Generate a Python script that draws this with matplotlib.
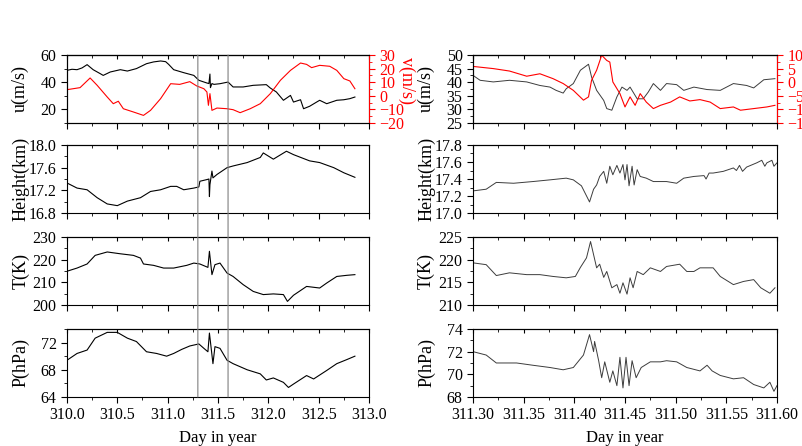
#########################################################
# Gravity wave event: overview (left) and zoomed window (right)
#########################################################

import numpy as np
import matplotlib.pyplot as plt
from matplotlib.ticker import MultipleLocator
from matplotlib.patches import ConnectionPatch

plt.rcParams['font.family'] = ['Liberation Serif', 'DejaVu Serif']
plt.rcParams['font.size'] = 11.5

# ---------------- data ----------------
# left column: days 310 - 313, (day, value)
u_left = [(310.00, 48.7), (310.05, 49.5), (310.10, 49.2), (310.15, 50.5), (310.20, 52.9),
          (310.26, 49.2), (310.33, 46.3), (310.36, 45.0), (310.43, 47.5), (310.53, 49.2),
          (310.60, 48.2), (310.69, 50.0), (310.79, 53.6), (310.86, 54.9), (310.93, 55.6),
          (310.98, 55.1), (311.01, 53.1), (311.06, 49.2), (311.16, 47.0), (311.26, 45.0),
          (311.31, 41.4), (311.39, 39.4), (311.41, 39.0), (311.42, 46.0), (311.425, 36.0),
          (311.44, 39.0), (311.46, 38.4), (311.52, 38.9), (311.60, 40.1), (311.65, 36.5),
          (311.75, 36.5), (311.85, 37.7), (311.98, 38.2), (312.02, 35.7), (312.08, 32.8),
          (312.15, 26.7), (312.22, 30.3), (312.25, 25.4), (312.32, 27.1), (312.35, 20.5),
          (312.41, 22.3), (312.48, 25.4), (312.51, 26.7), (312.58, 24.2), (312.68, 26.7),
          (312.75, 27.1), (312.81, 27.9), (312.86, 29.1)]

v_left = [(310.00, 4.5), (310.13, 6.0), (310.23, 13.1), (310.30, 7.7), (310.40, -0.9),
          (310.46, -5.8), (310.51, -4.0), (310.56, -9.5), (310.66, -11.9), (310.76, -14.4),
          (310.83, -10.7), (310.93, -2.1), (311.03, 8.9), (311.12, 8.4), (311.22, 10.4),
          (311.29, 7.2), (311.36, 5.2), (311.39, 2.8), (311.405, -7.0), (311.42, 1.6),
          (311.44, -10.7), (311.49, -9.0), (311.59, -9.5), (311.65, -10.2), (311.72, -12.4),
          (311.82, -9.5), (311.92, -5.8), (312.02, 1.6), (312.12, 11.4), (312.22, 18.7),
          (312.32, 24.1), (312.38, 23.1), (312.43, 20.7), (312.51, 22.4), (312.61, 21.7),
          (312.68, 18.7), (312.75, 12.6), (312.81, 10.9), (312.86, 5.2)]

h_left = [(310.00, 17.33), (310.10, 17.24), (310.20, 17.21), (310.30, 17.07), (310.40, 16.96),
          (310.50, 16.93), (310.60, 17.01), (310.73, 17.07), (310.83, 17.18), (310.93, 17.21),
          (311.03, 17.27), (311.09, 17.27), (311.16, 17.21), (311.26, 17.24), (311.31, 17.26),
          (311.32, 17.36), (311.39, 17.39), (311.41, 17.40), (311.415, 17.09), (311.42, 17.30),
          (311.44, 17.54), (311.45, 17.42), (311.49, 17.48), (311.59, 17.60), (311.65, 17.63),
          (311.79, 17.69), (311.92, 17.78), (311.95, 17.86), (312.05, 17.75), (312.18, 17.89),
          (312.25, 17.83), (312.41, 17.72), (312.51, 17.69), (312.65, 17.60), (312.75, 17.51),
          (312.86, 17.43)]

t_left = [(310.00, 214.9), (310.10, 216.3), (310.20, 218.1), (310.28, 221.9), (310.40, 223.4),
          (310.53, 222.6), (310.66, 221.9), (310.73, 220.7), (310.76, 218.1), (310.86, 217.5),
          (310.96, 216.3), (311.06, 216.3), (311.19, 217.5), (311.26, 218.5), (311.32, 218.1),
          (311.40, 216.6), (311.415, 223.7), (311.44, 213.4), (311.47, 217.8), (311.52, 218.5),
          (311.59, 214.1), (311.65, 212.6), (311.75, 209.0), (311.85, 206.0), (311.95, 204.6),
          (312.05, 204.9), (312.15, 204.6), (312.19, 201.6), (312.25, 204.3), (312.38, 208.2),
          (312.51, 207.5), (312.58, 209.7), (312.68, 212.6), (312.78, 213.1), (312.86, 213.4)]

p_left = [(310.00, 69.4), (310.10, 70.4), (310.20, 70.9), (310.28, 72.65), (310.40, 73.5),
          (310.50, 73.5), (310.60, 72.65), (310.69, 72.15), (310.79, 70.65), (310.89, 70.4),
          (310.99, 70.0), (311.06, 70.4), (311.14, 71.0), (311.22, 71.5), (311.31, 71.8),
          (311.36, 71.15), (311.40, 70.65), (311.415, 73.4), (311.45, 68.9), (311.47, 71.4),
          (311.52, 71.15), (311.59, 69.4), (311.65, 68.9), (311.79, 68.0), (311.92, 67.4),
          (311.98, 66.5), (312.05, 66.8), (312.15, 66.15), (312.20, 65.4), (312.25, 65.9),
          (312.38, 67.15), (312.45, 66.65), (312.58, 67.9), (312.68, 68.9), (312.78, 69.5),
          (312.86, 70.0)]

# right column: zoomed window 311.30 - 311.60
u_right = [(311.300, 42.5), (311.307, 40.7), (311.320, 40.1), (311.336, 40.7), (311.353, 40.1),
           (311.366, 38.8), (311.376, 38.2), (311.382, 37.0), (311.389, 36.0), (311.392, 37.6),
           (311.399, 39.5), (311.406, 44.4), (311.414, 46.6), (311.417, 41.9), (311.422, 37.0),
           (311.429, 33.3), (311.432, 30.3), (311.437, 29.7), (311.442, 34.6), (311.447, 38.2),
           (311.452, 37.0), (311.455, 38.2), (311.462, 33.9), (311.468, 33.9), (311.473, 36.4),
           (311.478, 39.5), (311.485, 37.0), (311.491, 39.5), (311.501, 39.1), (311.508, 37.0),
           (311.518, 38.2), (311.531, 37.3), (311.544, 37.0), (311.557, 39.5), (311.570, 38.8),
           (311.577, 37.9), (311.587, 40.9), (311.598, 41.3)]

v_right = [(311.300, 5.8), (311.320, 5.0), (311.336, 4.1), (311.353, 2.2), (311.366, 3.1),
           (311.379, 1.3), (311.389, -0.5), (311.399, -3.0), (311.409, -6.6), (311.414, -5.4),
           (311.417, 0.7), (311.422, 4.4), (311.427, 9.9), (311.432, 8.0), (311.435, 7.4),
           (311.438, 0.1), (311.445, -4.2), (311.450, -9.1), (311.455, -5.4), (311.460, -8.5),
           (311.465, -4.2), (311.471, -7.3), (311.478, -9.7), (311.485, -8.5), (311.495, -7.3),
           (311.504, -5.4), (311.514, -6.9), (311.524, -6.4), (311.534, -7.3), (311.544, -9.7),
           (311.557, -9.1), (311.564, -10.3), (311.577, -9.7), (311.590, -9.1), (311.598, -8.5)]

h_right = [(311.300, 17.26), (311.313, 17.28), (311.323, 17.36), (311.340, 17.35), (311.359, 17.37),
           (311.376, 17.39), (311.392, 17.41), (311.399, 17.39), (311.407, 17.32), (311.415, 17.13),
           (311.419, 17.28), (311.422, 17.33), (311.425, 17.43), (311.429, 17.49), (311.432, 17.35),
           (311.435, 17.55), (311.438, 17.45), (311.442, 17.56), (311.445, 17.47), (311.448, 17.57),
           (311.450, 17.39), (311.452, 17.57), (311.454, 17.32), (311.457, 17.55), (311.459, 17.33),
           (311.462, 17.51), (311.465, 17.43), (311.471, 17.41), (311.478, 17.37), (311.491, 17.37),
           (311.501, 17.35), (311.508, 17.41), (311.518, 17.43), (311.528, 17.44), (311.530, 17.40),
           (311.533, 17.47), (311.537, 17.47), (311.547, 17.49), (311.557, 17.53), (311.560, 17.50),
           (311.563, 17.56), (311.566, 17.49), (311.570, 17.54), (311.580, 17.59), (311.585, 17.62),
           (311.588, 17.55), (311.590, 17.59), (311.595, 17.62), (311.597, 17.55), (311.600, 17.59)]

t_right = [(311.300, 219.3), (311.313, 218.9), (311.323, 216.5), (311.336, 217.1), (311.353, 216.7),
           (311.366, 216.7), (311.379, 216.3), (311.392, 216.0), (311.401, 216.3), (311.406, 218.3),
           (311.412, 220.4), (311.416, 224.0), (311.419, 221.1), (311.422, 218.2), (311.425, 219.0),
           (311.429, 216.1), (311.432, 217.4), (311.437, 213.8), (311.442, 214.5), (311.445, 212.6),
           (311.448, 214.9), (311.452, 212.4), (311.455, 216.0), (311.458, 213.8), (311.462, 217.4),
           (311.468, 216.7), (311.475, 218.2), (311.485, 217.4), (311.491, 218.5), (311.504, 219.0),
           (311.511, 217.4), (311.518, 217.4), (311.524, 218.2), (311.537, 218.2), (311.544, 216.3),
           (311.557, 214.5), (311.567, 215.2), (311.577, 215.6), (311.584, 213.8), (311.593, 212.6),
           (311.598, 213.8)]

p_right = [(311.300, 72.0), (311.313, 71.7), (311.323, 71.0), (311.343, 71.0), (311.359, 70.8),
           (311.376, 70.6), (311.389, 70.4), (311.399, 70.6), (311.409, 71.7), (311.415, 73.5),
           (311.419, 72.0), (311.420, 72.9), (311.424, 71.2), (311.427, 69.7), (311.430, 71.1),
           (311.435, 69.3), (311.438, 70.3), (311.442, 69.0), (311.445, 71.5), (311.448, 68.8),
           (311.451, 71.5), (311.454, 69.0), (311.457, 71.2), (311.461, 69.7), (311.466, 70.6),
           (311.475, 71.1), (311.485, 71.1), (311.491, 71.2), (311.501, 71.1), (311.511, 70.6),
           (311.524, 70.3), (311.531, 70.8), (311.536, 70.3), (311.544, 69.9), (311.557, 69.6),
           (311.567, 69.7), (311.577, 69.1), (311.587, 68.8), (311.593, 69.3), (311.597, 68.5),
           (311.600, 69.0)]

zoom_window = [311.3, 311.6]

ylabels = ['u(m/s)', 'Height(km)', 'T(K)', 'P(hPa)']

# y limits / major / minor tick steps for each row
left_ylims = [(10, 60, 20, 10), (16.8, 18.0, 0.4, 0.2), (200, 230, 10, 5), (64, 74, 4, 2)]
right_ylims = [(25, 50, 5, 2.5), (17.0, 17.8, 0.2, 0.1), (210, 225, 5, 2.5), (68, 74, 2, 1)]

# ---------------- figure layout ----------------
fig = plt.figure(figsize=(8.02, 4.46), dpi=100)

row_bottoms = [0.7242, 0.5224, 0.3161, 0.1099]
row_height = 0.1525
col_left = [0.0835, 0.5898]
col_width = [0.3766, 0.379]


def style_axis(ax, xlim, xmaj, xmin, ylim, bottom_row, fmt):
    ax.set_xlim(*xlim)
    ax.set_ylim(ylim[0], ylim[1])
    ax.xaxis.set_major_locator(MultipleLocator(xmaj))
    ax.xaxis.set_minor_locator(MultipleLocator(xmin))
    ax.yaxis.set_major_locator(MultipleLocator(ylim[2]))
    ax.yaxis.set_minor_locator(MultipleLocator(ylim[3]))
    ax.tick_params(which='major', direction='out', length=4, width=0.8)
    ax.tick_params(which='minor', direction='out', length=2, width=0.6)
    ax.tick_params(axis='x', labelbottom=bottom_row)
    ax.xaxis.set_major_formatter(fmt)
    # inward ticks along the top edge
    top = ax.secondary_xaxis('top')
    top.xaxis.set_major_locator(MultipleLocator(xmaj))
    top.xaxis.set_minor_locator(MultipleLocator(xmin))
    top.tick_params(which='major', direction='in', length=3, labeltop=False)
    top.tick_params(which='minor', direction='in', length=2)
    for s in ax.spines.values():
        s.set_linewidth(0.8)


series_left = [u_left, h_left, t_left, p_left]
series_right = [u_right, h_right, t_right, p_right]

axes_left = []
axes_right = []
for i in range(4):
    bottom_row = (i == 3)

    # left column
    ax = fig.add_axes([col_left[0], row_bottoms[i], col_width[0], row_height])
    d = np.array(series_left[i])
    ax.plot(d[:, 0], d[:, 1], color='black', lw=0.8)
    style_axis(ax, (310.0, 313.0), 0.5, 0.25, left_ylims[i], bottom_row, '{x:.1f}')
    if left_ylims[i][2] < 1:
        ax.yaxis.set_major_formatter('{x:.1f}')
    ax.set_ylabel(ylabels[i], fontsize=13)
    ax.yaxis.set_label_coords(-0.125, 0.5)
    axes_left.append(ax)

    # right column
    ax = fig.add_axes([col_left[1], row_bottoms[i], col_width[1], row_height])
    d = np.array(series_right[i])
    ax.plot(d[:, 0], d[:, 1], color='#3c3c3c', lw=0.7)
    style_axis(ax, (311.30, 311.60), 0.05, 0.025, right_ylims[i], bottom_row, '{x:.2f}')
    if right_ylims[i][2] < 1:
        ax.yaxis.set_major_formatter('{x:.1f}')
    ax.set_ylabel(ylabels[i], fontsize=13)
    ax.yaxis.set_label_coords(-0.125, 0.5)
    axes_right.append(ax)

for ax in [axes_left[3], axes_right[3]]:
    ax.set_xlabel('Day in year', fontsize=12, labelpad=5)

# meridional wind on a red twin axis in the top row
for ax, vdata, vlim in [(axes_left[0], v_left, (-20, 30, 10, 5)),
                        (axes_right[0], v_right, (-15, 10, 5, 2.5))]:
    ax2 = ax.twinx()
    d = np.array(vdata)
    ax2.plot(d[:, 0], d[:, 1], color='red', lw=0.8)
    ax2.set_ylim(vlim[0], vlim[1])
    ax2.yaxis.set_major_locator(MultipleLocator(vlim[2]))
    ax2.yaxis.set_minor_locator(MultipleLocator(vlim[3]))
    ax2.tick_params(which='major', direction='out', length=4, width=0.8, colors='red')
    ax2.tick_params(which='minor', direction='out', length=2, width=0.6, colors='red')
    ax2.spines['right'].set_color('red')
    ax2.set_ylabel('v(m/s)', color='red', rotation=270, va='center', ha='center', fontsize=13)
    ax2.yaxis.set_label_coords(1.125, 0.62)

# vertical lines marking the zoomed window across the left column
for day in zoom_window:
    con = ConnectionPatch(xyA=(day, 1), coordsA=axes_left[0].get_xaxis_transform(),
                          xyB=(day, 0), coordsB=axes_left[3].get_xaxis_transform(),
                          color='#808080', lw=0.8)
    fig.add_artist(con)

plt.savefig('out.png', dpi=100)
